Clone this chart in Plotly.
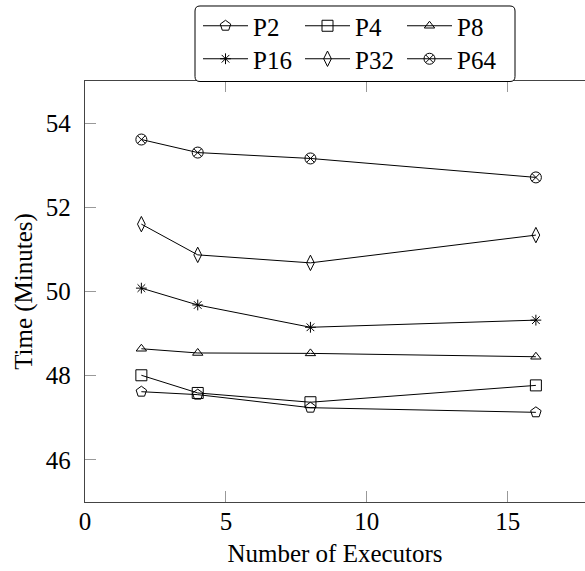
import plotly.graph_objects as go

executors = [2, 4, 8, 16]
series_names = ["P2", "P4", "P8", "P16", "P32", "P64"]
p2 = [47.62, 47.55, 47.24, 47.13]
p4 = [48.01, 47.59, 47.37, 47.77]
p8 = [48.64, 48.54, 48.53, 48.45]
p16 = [50.08, 49.68, 49.15, 49.32]
p32 = [51.60, 50.87, 50.68, 51.34]
p64 = [53.61, 53.30, 53.16, 52.71]
values = [p2, p4, p8, p16, p32, p64]
symbols = ["pentagon-open", "square-open", "triangle-up-open",
           "asterisk-open", "diamond-tall-open", "circle-x-open"]
sizes = [11, 11, 9, 9, 11, 11]
xticks = [0, 5, 10, 15]
yticks = [46, 48, 50, 52, 54]

FONT = "Liberation Serif"
W, H = 585, 571
ML, MR, MT, MB = 85, 0, 81, 69
PW, PH = W - ML - MR, H - MT - MB

def px2paper(x, y):
    return (x - ML) / PW, (H - MB - y) / PH

fig = go.Figure()
for i, (name, vals) in enumerate(zip(series_names, values)):
    fig.add_trace(go.Scatter(
        x=executors, y=vals, name=name,
        mode="lines+markers",
        line=dict(color="black", width=1),
        marker=dict(symbol=symbols[i], size=sizes[i], color="black",
                    line=dict(color="black", width=1)),
        legend="legend" if i < 3 else "legend2",
    ))

# rounded legend box
x0, y0, x1, y1, r = 195, 6, 515, 81.5, 5
def P(x, y):
    a, b = px2paper(x, y)
    return f"{a:.5f},{b:.5f}"
path = (f"M {P(x0 + r, y0)} L {P(x1 - r, y0)} Q {P(x1, y0)} {P(x1, y0 + r)} "
        f"L {P(x1, y1 - r)} Q {P(x1, y1)} {P(x1 - r, y1)} "
        f"L {P(x0 + r, y1)} Q {P(x0, y1)} {P(x0, y1 - r)} "
        f"L {P(x0, y0 + r)} Q {P(x0, y0)} {P(x0 + r, y0)} Z")
fig.add_shape(type="path", path=path, xref="paper", yref="paper",
              line=dict(color="black", width=1), fillcolor="white", layer="above")

lx, ly1 = px2paper(198, 3)
_, ly2 = px2paper(198, 36)

def legend_cfg(y):
    return dict(orientation="h", xanchor="left", yanchor="top", x=lx, y=y,
                bgcolor="rgba(0,0,0,0)", borderwidth=0,
                font=dict(family=FONT, size=25, color="black"),
                itemwidth=45,
                entrywidth=42, entrywidthmode="pixels", itemclick=False)

fig.update_layout(
    template="none",
    width=W, height=H,
    margin=dict(l=ML, r=MR, t=MT, b=MB, pad=0, autoexpand=False),
    paper_bgcolor="white", plot_bgcolor="white",
    font=dict(family=FONT, size=25, color="black"),
    showlegend=True,
    legend=legend_cfg(ly1),
    legend2=legend_cfg(ly2),
    xaxis=dict(range=[0, 500 / 28.18], tickvals=xticks, ticks="inside", ticklen=11,
               tickcolor="#999", tickwidth=1, showline=True, linecolor="#444",
               linewidth=1.3, mirror="ticks", showgrid=False, zeroline=False,
               ticklabelstandoff=-3,
               tickfont=dict(family=FONT, size=25, color="black"),
               title=dict(text="Number of Executors", standoff=10,
                          font=dict(family=FONT, size=25, color="black"))),
    yaxis=dict(range=[45, 55], tickvals=yticks, ticks="inside", ticklen=11,
               tickcolor="#999", tickwidth=1, showline=True, linecolor="#444",
               linewidth=1.3, mirror=False, showgrid=False, zeroline=False,
               ticklabelstandoff=8,
               tickfont=dict(family=FONT, size=25, color="black"),
               title=dict(text="Time (Minutes)", standoff=6,
                          font=dict(family=FONT, size=25, color="black"))),
)
fig.write_html("out.html")
